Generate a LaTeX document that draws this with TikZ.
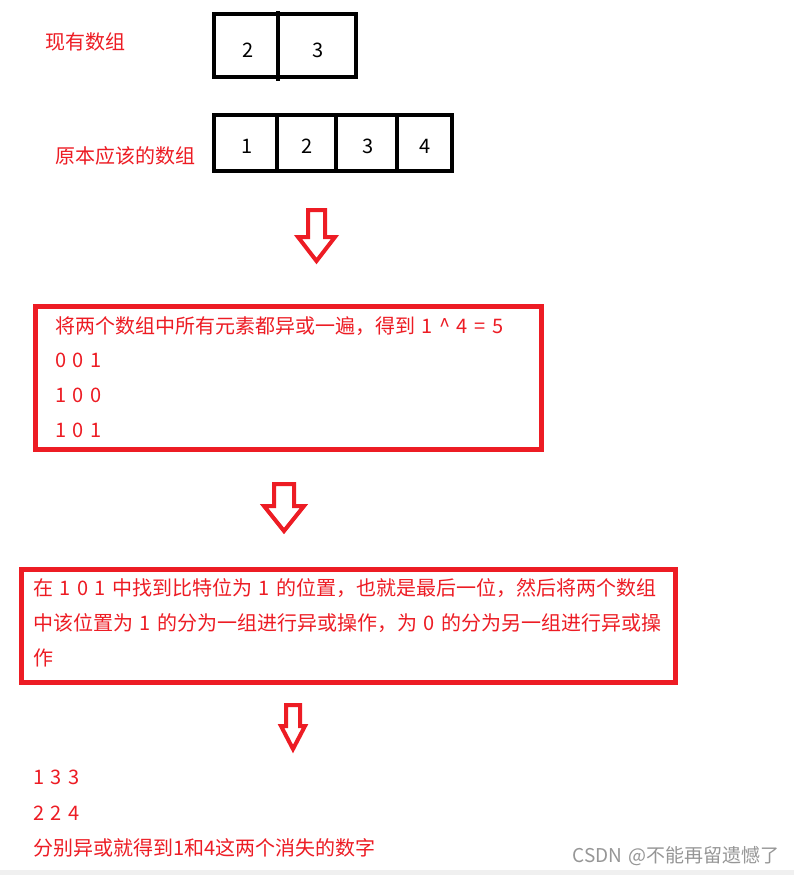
\documentclass[tikz,border=0pt]{standalone}
\usepackage{fontspec}
\setmainfont[WordSpace=1.45]{Noto Sans CJK SC}
\definecolor{pred}{RGB}{237,28,36}
\definecolor{wmgray}{RGB}{150,150,150}
\definecolor{bandgray}{RGB}{240,240,240}
\tikzset{
  cellbox/.style={draw=black, line width=4.5pt},
  redbox/.style={draw=pred, line width=5pt},
  blockarrow/.style={draw=pred, line width=4pt, line join=miter, miter limit=3},
  redtxt/.style={inner sep=0pt, text=pred, font=\fontsize{20}{24}\selectfont},
  numtxt/.style={inner sep=0pt, text=black, font=\fontsize{20}{24}\selectfont},
  wmtxt/.style={inner sep=0pt, text=wmgray, font=\fontsize{19}{23}\selectfont},
}
\begin{document}
\begin{tikzpicture}[x=1pt, y=-1pt]
\useasboundingbox (0,0) rectangle (794,875);
\fill[white] (0,0) rectangle (794,875);
\fill[bandgray] (0,870) rectangle (794,875);

% labels
\node[redtxt, anchor=base] (lblcur) at (85,50) {现有数组};
\node[redtxt, anchor=base] (lblorig) at (125,163) {原本应该的数组};

% current array
\draw[cellbox] (214,14) rectangle (356,77);
\draw[black, line width=4pt] (278,11) -- (278,81);
\node[numtxt, anchor=base] (c2) at (248,57.5) {2};
\node[numtxt, anchor=base] (c3) at (318,57.5) {3};

% original array
\draw[cellbox] (214,115) rectangle (452,171);
\draw[black, line width=4.5pt] (277,115) -- (277,171);
\draw[black, line width=4.5pt] (336,115) -- (336,171);
\draw[black, line width=4.5pt] (397,115) -- (397,171);
\node[numtxt, anchor=base] (o1) at (247,153.5) {1};
\node[numtxt, anchor=base] (o2) at (307,153.5) {2};
\node[numtxt, anchor=base] (o3) at (368,153.5) {3};
\node[numtxt, anchor=base] (o4) at (425,153.5) {4};

% arrow 1
\draw[blockarrow] (308,210) -- (325,210) -- (325,237) -- (335,237) -- (316.5,261) -- (298,237) -- (308,237) -- cycle;

% box 1
\draw[redbox] (35.5,306.5) rectangle (541.5,449.5);
\node[redtxt, anchor=base west] (b1l1) at (55,333) {将两个数组中所有元素都异或一遍，得到 1 \^{} 4 = 5};
\node[redtxt, anchor=base west] (b1l2) at (55,367) {0 0 1};
\node[redtxt, anchor=base west] (b1l3) at (55,402) {1 0 0};
\node[redtxt, anchor=base west] (b1l4) at (55,437) {1 0 1};

% arrow 2
\draw[blockarrow] (274,484) -- (294,484) -- (294,506) -- (304,506) -- (284,531) -- (264,506) -- (274,506) -- cycle;

% box 2
\draw[redbox] (21.5,569.5) rectangle (675.5,682.5);
\node[redtxt, anchor=base west] (b2l1) at (33,595) {在 1 0 1 中找到比特位为 1 的位置，也就是最后一位，然后将两个数组};
\node[redtxt, anchor=base west] (b2l2) at (33,630) {中该位置为 1 的分为一组进行异或操作，为 0 的分为另一组进行异或操};
\node[redtxt, anchor=base west] (b2l3) at (33,665) {作};

% arrow 3
\draw[blockarrow] (286,705) -- (300,705) -- (300,726) -- (305,726) -- (293,749) -- (281,726) -- (286,726) -- cycle;

% result
\node[redtxt, anchor=base west] (r1) at (33,784) {1 3 3};
\node[redtxt, anchor=base west] (r2) at (33,820) {2 2 4};
\node[redtxt, anchor=base west] (r3) at (33,855) {分别异或就得到1和4这两个消失的数字};

% watermark
\node[wmtxt, anchor=base east] (wm) at (780,862) {CSDN @不能再留遗憾了};
\end{tikzpicture}
\end{document}
